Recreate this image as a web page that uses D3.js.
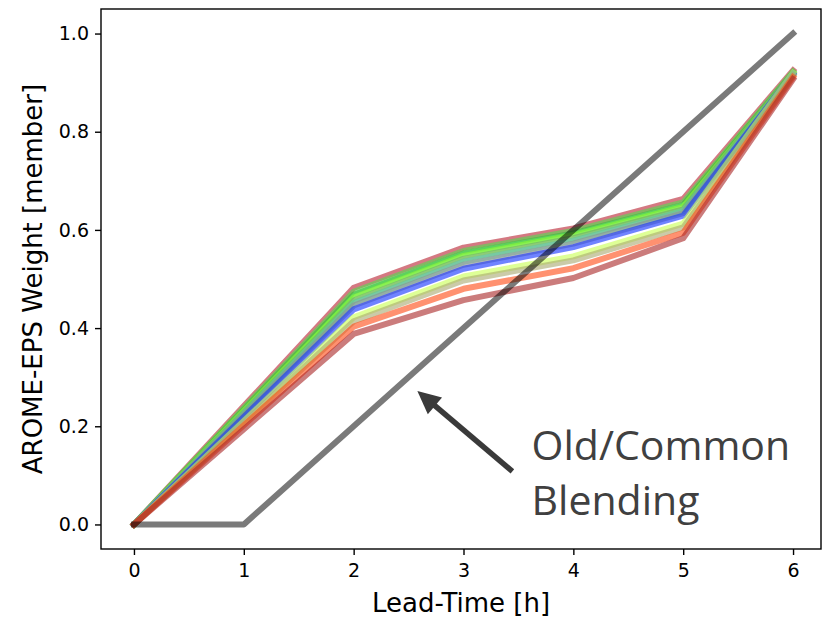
<!DOCTYPE html>
<html>
<head>
<meta charset="utf-8">
<script src="https://cdn.jsdelivr.net/npm/d3@7"></script>
<style>
  html, body { margin: 0; padding: 0; background: #fff; }
  svg { display: block; }
</style>
</head>
<body>
<svg id="chart" width="827" height="617"></svg>
<script>
// Lead times in hours
const leadTimes = [0, 1, 2, 3, 4, 5, 6];

// Per-member AROME-EPS weights, listed from the upper to the lower curve
const memberColors = [
  "#b8202e", "#50e050", "#38c038", "#8cff30", "#70a870", "#58c8a0",
  "#909090", "#1030ff", "#c8ff50", "#a8a870", "#ff4810", "#a82424"
];
const memberWeights = [
  [0, 0.241, 0.482, 0.564, 0.603, 0.663, 0.925],
  [0, 0.237, 0.474, 0.557, 0.598, 0.656, 0.922],
  [0, 0.234, 0.468, 0.552, 0.593, 0.651, 0.920],
  [0, 0.231, 0.462, 0.547, 0.589, 0.647, 0.918],
  [0, 0.228, 0.456, 0.541, 0.583, 0.642, 0.920],
  [0, 0.226, 0.451, 0.535, 0.578, 0.638, 0.916],
  [0, 0.223, 0.446, 0.529, 0.572, 0.634, 0.915],
  [0, 0.219, 0.438, 0.521, 0.565, 0.629, 0.918],
  [0, 0.211, 0.422, 0.505, 0.546, 0.613, 0.920],
  [0, 0.207, 0.414, 0.497, 0.538, 0.605, 0.914],
  [0, 0.202, 0.403, 0.480, 0.522, 0.594, 0.911],
  [0, 0.194, 0.388, 0.457, 0.502, 0.583, 0.907]
];

// Old/common blending weight
const commonWeights = [0, 0, 0.2, 0.4, 0.6, 0.8, 1.0];

const xTicks = [0, 1, 2, 3, 4, 5, 6];
const yTicks = [0.0, 0.2, 0.4, 0.6, 0.8, 1.0];

const xLabel = "Lead-Time [h]";
const yLabel = "AROME-EPS Weight [member]";
const noteLines = ["Old/Common", "Blending"];

const svg = d3.select("#chart");
const frame = { left: 101, right: 821, top: 9, bottom: 549 };

const x = d3.scaleLinear().domain([-0.3, 6.3]).range([frame.left, frame.right + 5]);
const y = d3.scaleLinear().domain([-0.05, 1.05]).range([frame.bottom, frame.top]);

const line = d3.line()
  .x((d, i) => x(leadTimes[i]))
  .y(d => y(d));

const plot = svg.append("g");

// ensemble member curves
plot.selectAll("path.member")
  .data(memberWeights)
  .join("path")
  .attr("class", "member")
  .attr("d", line)
  .attr("fill", "none")
  .attr("stroke", (d, i) => memberColors[i])
  .attr("stroke-opacity", 0.6)
  .attr("stroke-width", 6)
  .attr("stroke-linejoin", "round")
  .attr("stroke-linecap", "square");

// common blending curve
plot.append("path")
  .attr("d", line(commonWeights))
  .attr("fill", "none")
  .attr("stroke", "#000")
  .attr("stroke-opacity", 0.52)
  .attr("stroke-width", 6)
  .attr("stroke-linejoin", "round")
  .attr("stroke-linecap", "square");

// axes frame
svg.append("rect")
  .attr("x", frame.left).attr("y", frame.top)
  .attr("width", frame.right - frame.left)
  .attr("height", frame.bottom - frame.top)
  .attr("fill", "none").attr("stroke", "#000").attr("stroke-width", 1.4);

const xAxis = svg.append("g")
  .attr("transform", `translate(0,${frame.bottom})`)
  .call(d3.axisBottom(x).tickValues(xTicks).tickFormat(d3.format("d")).tickSize(6).tickPadding(9));
const yAxis = svg.append("g")
  .attr("transform", `translate(${frame.left},0)`)
  .call(d3.axisLeft(y).tickValues(yTicks).tickFormat(d3.format(".1f")).tickSize(6).tickPadding(6));

[xAxis, yAxis].forEach(g => {
  g.select(".domain").remove();
  g.selectAll(".tick line").attr("stroke", "#000").attr("stroke-width", 1.4);
  g.selectAll(".tick text")
    .attr("fill", "#000")
    .style("font-family", "DejaVu Sans")
    .style("font-size", "19px");
});

svg.append("text")
  .attr("x", (frame.left + frame.right) / 2)
  .attr("y", 612)
  .attr("text-anchor", "middle")
  .style("font-family", "DejaVu Sans")
  .style("font-size", "26px")
  .text(xLabel);

svg.append("text")
  .attr("transform", `translate(42,${(frame.top + frame.bottom) / 2}) rotate(-90)`)
  .attr("text-anchor", "middle")
  .style("font-family", "DejaVu Sans")
  .style("font-size", "26px")
  .text(yLabel);

// annotation arrow pointing at the common blending curve
const tail = [x(3.445), y(0.108)];
const tip = [x(2.58), y(0.272)];
const ang = Math.atan2(tip[1] - tail[1], tip[0] - tail[0]);
const headLen = 23, headHalf = 11;
const base = [tip[0] - headLen * Math.cos(ang), tip[1] - headLen * Math.sin(ang)];
svg.append("line")
  .attr("x1", tail[0]).attr("y1", tail[1])
  .attr("x2", base[0] + 4 * Math.cos(ang)).attr("y2", base[1] + 4 * Math.sin(ang))
  .attr("stroke", "#3a3a3a").attr("stroke-width", 5.5);
svg.append("path")
  .attr("d", d3.line()([
    tip,
    [base[0] - headHalf * Math.sin(ang), base[1] + headHalf * Math.cos(ang)],
    [base[0] + headHalf * Math.sin(ang), base[1] - headHalf * Math.cos(ang)]
  ]) + "Z")
  .attr("fill", "#3a3a3a");

svg.append("g").selectAll("text")
  .data(noteLines)
  .join("text")
  .attr("x", x(3.62))
  .attr("y", (d, i) => y(0.132) + i * 55)
  .style("font-family", "Open Sans")
  .style("font-size", "41px")
  .attr("fill", "#404040")
  .text(d => d);
</script>
</body>
</html>
